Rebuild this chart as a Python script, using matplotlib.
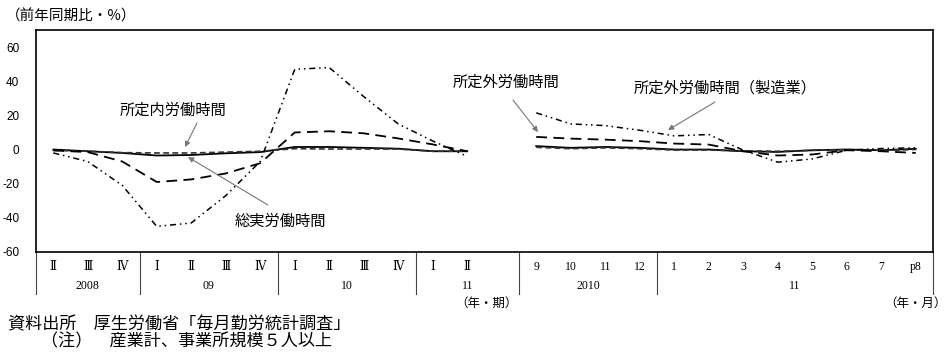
import numpy as np
import matplotlib
matplotlib.use("Agg")
import matplotlib.pyplot as plt
from matplotlib.transforms import blended_transform_factory

nan = np.nan

# ---- data ----
row1_labels = ['Ⅱ', 'Ⅲ', 'Ⅳ', 'Ⅰ', 'Ⅱ', 'Ⅲ', 'Ⅳ', 'Ⅰ', 'Ⅱ', 'Ⅲ', 'Ⅳ', 'Ⅰ', 'Ⅱ', '',
               '9', '10', '11', '12', '1', '2', '3', '4', '5', '6', '7', 'p8']
year_labels = ['2008', '09', '10', '11', '2010', '11']
year_start = [0, 3, 7, 11, 14, 18]
year_end = [2, 6, 10, 13, 17, 25]

total_hours = [0, -1, -2, -3.5, -3.2, -2.2, -1.5, 1.5, 1.5, 1, 0.5, -1, -1, nan,
               2, 1, 1.5, 1, 0, 0, -1, -1.4, -0.4, 0, -0.4, 0.4]
scheduled_hours = [-0.5, -1, -1.8, -2, -2, -1.5, -1, 0.5, 0.3, 0.3, 0.3, -1, -1, nan,
                   1.3, 0.5, 1, 0.5, -0.3, -0.3, -0.8, -1, -0.5, 0, -0.5, 0]
overtime_hours = [-0.5, -1.5, -7, -19, -17.5, -14, -8, 10, 10.7, 9.5, 6.5, 3, -1, nan,
                  7.4, 6.4, 5.8, 4.9, 3.5, 2.9, -1, -3.5, -2.9, -0.4, -1, -2]
overtime_mfg = [-2, -7, -21, -45, -43, -27, -7, 47, 48, 31, 15, 5, -4, nan,
                21.5, 15, 14, 11.3, 8, 8.8, -0.4, -7.4, -5.5, -0.4, 0.6, 1]

JP = ['Noto Sans CJK JP', 'DejaVu Sans']
SERIF = ['Liberation Serif', 'DejaVu Serif', 'Noto Sans CJK JP']

W, H = 948, 356
fig = plt.figure(figsize=(W / 100, H / 100), dpi=100)
fig.patch.set_facecolor('white')

L, R, T, B = 36, 933, 30, 252
ax = fig.add_axes([L / W, 1 - B / H, (R - L) / W, (B - T) / H])
x = np.arange(len(row1_labels))
ax.set_xlim(-0.5, len(row1_labels) - 0.5)
ax.set_ylim(-60, 70)

ax.plot(x, total_hours, color='black', lw=1.3, solid_joinstyle='round')
ax.plot(x, scheduled_hours, color='#333333', lw=1.2, dashes=(3.5, 2))
ax.plot(x, overtime_hours, color='black', lw=1.3, dashes=(6, 3.5))
ax.plot(x, overtime_mfg, color='black', lw=1.1, dashes=(4, 2.5, 1, 2.5, 1, 2.5))

ax.set_yticks([60, 40, 20, 0, -20, -40, -60])
ax.set_yticklabels(['60', '40', '20', '0', '-20', '-40', '-60'],
                   fontfamily='Liberation Sans', fontsize=8.5)
ax.tick_params(axis='y', length=0, pad=12)
ax.set_xticks([])
for s in ax.spines.values():
    s.set_linewidth(1.2)
    s.set_color('black')

# category table below the axes
tr = blended_transform_factory(ax.transData, fig.transFigure)
def fy(py):
    return 1 - py / H

for i, lab in enumerate(row1_labels):
    if lab:
        ax.text(i, fy(267), lab, transform=tr, ha='center', va='center',
                fontsize=8.5, family=SERIF, clip_on=False)
for lab, s, e in zip(year_labels, year_start, year_end):
    ax.text((s + e) / 2, fy(286), lab, transform=tr, ha='center', va='center',
            fontsize=8.5, family=SERIF, clip_on=False)
seps = [year_start[0] - 0.5] + [e + 0.5 for e in year_end]
for sx in seps:
    ax.plot([sx, sx], [fy(B), fy(294)], transform=tr, color='#444444', lw=0.8,
            clip_on=False)

fig.text(518 / W, fy(303), '（年・期）', ha='right', va='center', fontsize=9, family=JP)
fig.text(947 / W, fy(303), '（年・月）', ha='right', va='center', fontsize=9, family=JP)

fig.text(6 / W, fy(16), '（前年同期比・%）', ha='left', va='center', fontsize=10.5, family=JP)

fig.text(8 / W, fy(324), '資料出所　厚生労働省「毎月勤労統計調査」', ha='left', va='center',
         fontsize=12.3, family=JP)
fig.text(41 / W, fy(341), '（注）　産業計、事業所規模５人以上', ha='left', va='center',
         fontsize=12.3, family=JP)

# annotations
arrow = dict(arrowstyle='-|>', color='#777777', lw=0.8, mutation_scale=8,
             shrinkA=0, shrinkB=0)
def pt(px, py):
    return ((px - L) / 34.5 - 0.5, (149.5 - py) / 1.708)

ax.text(*pt(173, 110), '所定内労働時間', ha='center', va='center', fontsize=11, family=JP)
ax.annotate('', xy=pt(185, 147), xytext=pt(197, 123), arrowprops=arrow)
ax.text(*pt(280, 221), '総実労働時間', ha='center', va='center', fontsize=11, family=JP)
ax.annotate('', xy=pt(188, 157), xytext=pt(268, 205), arrowprops=arrow)
ax.text(*pt(506, 82), '所定外労働時間', ha='center', va='center', fontsize=11, family=JP)
ax.annotate('', xy=pt(538, 132), xytext=pt(513, 100), arrowprops=arrow)
ax.text(*pt(725, 88), '所定外労働時間（製造業）', ha='center', va='center', fontsize=11, family=JP)
ax.annotate('', xy=pt(668, 130), xytext=pt(715, 102), arrowprops=arrow)

fig.savefig('out.png', dpi=100, facecolor='white')
